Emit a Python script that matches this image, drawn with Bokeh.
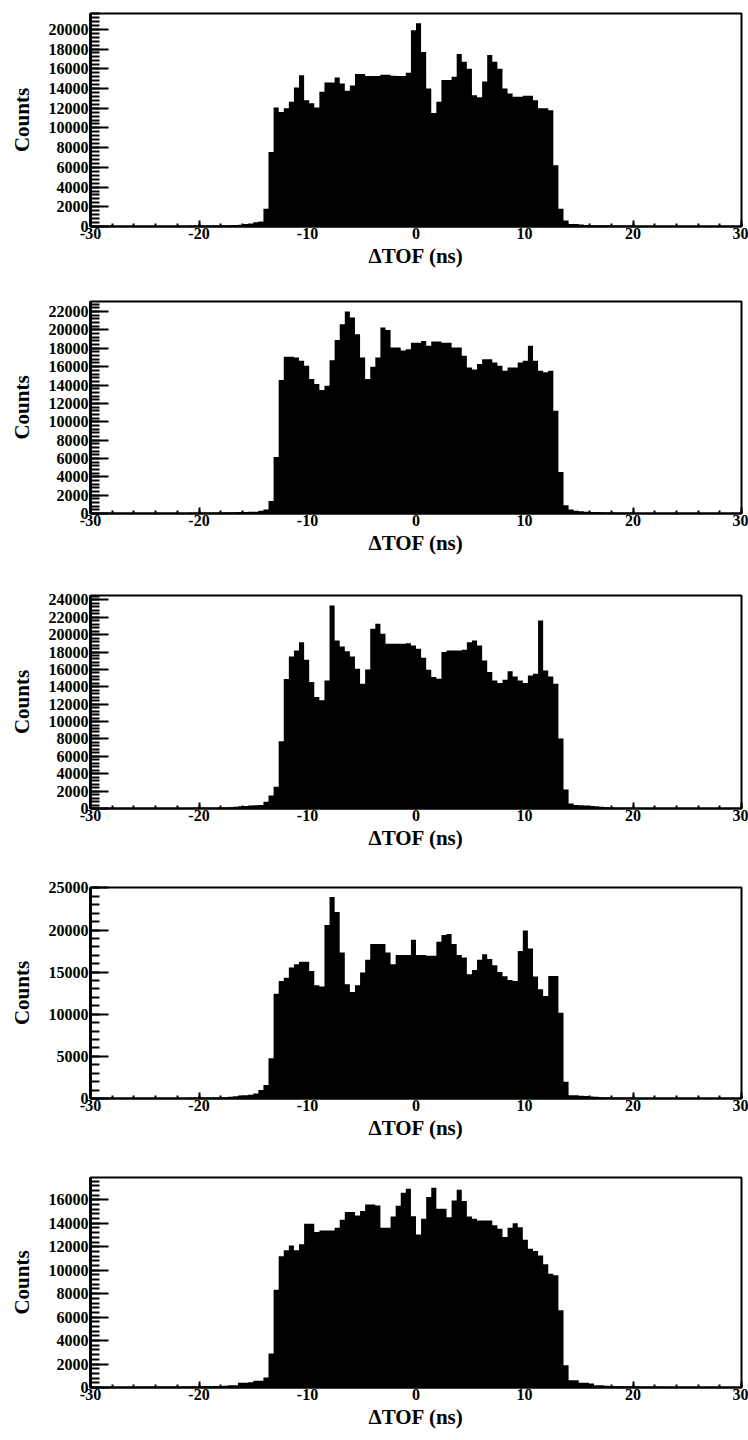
from bokeh.plotting import figure
from bokeh.layouts import column
from bokeh.models import (Range1d, SingleIntervalTicker, BasicTickFormatter,
                          PrintfTickFormatter, ColumnDataSource)
from bokeh.embed import file_html
from bokeh.resources import INLINE

# ---------------- data ----------------
bin_lo = -30.0
bin_hi = 30.0
n_bins = 128

x_label = "\u0394TOF (ns)"
y_label = "Counts"

counts_1 = [
    40, 45, 40, 50, 45, 50, 45, 50, 55, 50, 55, 50, 55, 60, 55, 60, 60, 65, 60, 70, 70, 75, 80, 85, 90, 100,
    110, 120, 140, 170, 250, 300, 420, 500, 1800, 7560,
    12070, 11600, 12000, 12640, 14100, 15350, 12800, 12500, 12070, 13660,
    14600, 14600, 15100, 14500, 13760, 14300, 15460, 15460, 15250, 15250,
    15250, 15400, 15400, 15300, 15250, 15250, 15600, 19900, 20600, 17700,
    14000, 11500, 12640, 14850, 14850, 15190, 17500, 16700, 16000, 13300,
    13100, 14700, 17400, 16700, 16000, 14000, 13500, 13150, 13150, 13250,
    13250, 12800, 12000, 12000, 11800, 6200, 1800, 600, 260, 250,
    200, 130, 110, 100, 100, 90,
    80, 75, 70, 70, 65, 60, 60, 55, 55, 50, 55, 50, 50, 45, 50, 45, 45, 40, 45, 40, 40, 45, 40, 40, 35, 40,
]

counts_2 = [
    40, 40, 45, 45, 50, 45, 50, 50, 50, 55, 50, 55, 55, 60, 55, 60, 65, 60, 65, 70, 70, 75, 75, 80, 85, 90,
    100, 120, 140, 160, 170, 180, 200, 300, 430, 1370,
    6150, 14540, 17080, 17080, 17000, 16640, 16100, 14650, 14100, 13460,
    13930, 16700, 18900, 20620, 22000, 21350, 19540, 17000, 14650, 16000,
    17000, 20260, 20000, 18100, 18100, 17750, 17900, 18600, 18600, 18800,
    18270, 18740, 18740, 18600, 18600, 18100, 18100, 17200, 15900, 15700,
    16300, 16800, 16800, 16460, 16100, 15560, 15900, 15900, 16460, 16640,
    18270, 16640, 15560, 15400, 15560, 11200, 4520, 900, 430, 300,
    250, 200, 170, 150, 130, 120,
    100, 90, 80, 75, 70, 65, 60, 60, 55, 55, 50, 50, 50, 45, 45, 45, 40, 45, 40, 40, 40, 45, 40, 35, 40, 40,
]

counts_3 = [
    40, 45, 40, 45, 50, 50, 45, 50, 55, 50, 55, 55, 60, 55, 60, 60, 65, 65, 70, 70, 75, 80, 80, 90, 95, 105,
    120, 150, 200, 250, 300, 350, 380, 400, 770, 1500,
    2490, 7730, 14900, 17490, 18180, 19130, 17100, 14540, 12820, 12440,
    14730, 23340, 19330, 18640, 18100, 17490, 16070, 14350, 16000, 20670,
    21240, 20090, 18940, 18940, 18940, 18940, 19000, 18750, 18370, 17340,
    15960, 15120, 14930, 17990, 18180, 18180, 18180, 18250, 19130, 19330,
    18750, 17030, 15690, 14730, 14430, 14810, 15800, 15190, 14730, 14430,
    15310, 15500, 21620, 15880, 15190, 14350, 8040, 2180, 570, 400,
    380, 350, 300, 250, 200, 150,
    120, 100, 90, 80, 75, 70, 65, 60, 60, 55, 55, 50, 50, 50, 45, 45, 45, 40, 45, 40, 40, 40, 45, 40, 40, 35,
]

counts_4 = [
    40, 40, 45, 45, 50, 50, 50, 55, 50, 55, 55, 60, 55, 60, 60, 65, 65, 70, 70, 75, 80, 85, 90, 100, 110, 130,
    150, 200, 280, 350, 400, 450, 600, 1000, 1600, 4780,
    12440, 13950, 14350, 15550, 15950, 16230, 16230, 15150, 13440, 13300,
    20610, 23920, 22130, 17340, 13560, 12640, 13440, 14950, 16470, 18340,
    18340, 18340, 17340, 15950, 17030, 17030, 17030, 18860, 17030, 17030,
    16950, 16950, 18620, 19420, 19540, 18340, 17030, 16750, 14750, 15270,
    16470, 17140, 16550, 15830, 15030, 14500, 14070, 13950, 17500, 19940,
    17820, 14470, 12960, 12160, 14550, 14550, 10170, 2000, 400, 380,
    330, 300, 250, 200, 150, 120,
    100, 90, 85, 80, 75, 70, 65, 60, 60, 55, 55, 50, 50, 50, 45, 45, 45, 40, 45, 40, 40, 40, 45, 40, 40, 40,
]

counts_5 = [
    40, 45, 40, 45, 50, 50, 50, 55, 50, 55, 55, 60, 60, 60, 65, 65, 70, 70, 75, 80, 85, 90, 100, 110, 120, 135,
    150, 200, 200, 400, 400, 450, 570, 570, 850, 2890,
    8340, 11180, 11690, 12110, 11690, 12200, 13960, 13960, 13250, 13390,
    13390, 13390, 13620, 14300, 14950, 14950, 14670, 15040, 15600, 15600,
    15520, 13620, 13620, 14580, 15500, 16600, 16940, 14600, 13050, 14380,
    16230, 17020, 15230, 15230, 14520, 15940, 16850, 15890, 14580, 14380,
    14240, 14240, 14240, 13820, 13530, 12820, 13620, 14010, 13670, 12600,
    11830, 11630, 11260, 10500, 9700, 9560, 6580, 1900, 620, 620,
    400, 400, 350, 200, 200, 150,
    130, 110, 100, 90, 80, 75, 70, 65, 60, 60, 55, 55, 50, 50, 50, 45, 45, 45, 40, 45, 40, 40, 40, 45, 40, 40,
]

y_tops = [21600, 23100, 24500, 25050, 17900]
y_major = [2000, 2000, 2000, 5000, 2000]
x_major = 10

# ---------------- drawing ----------------
FONT = "Liberation Serif"
panels = [counts_1, counts_2, counts_3, counts_4, counts_5]
# (figure height, top border, bottom border)
geom = [(290, 13, 64), (290, 11, 67), (290, 15, 62), (290, 17, 62), (280, 17, 53)]

step = (bin_hi - bin_lo) / n_bins
edges = [bin_lo + i * step for i in range(n_bins + 1)]

figs = []
for counts, ytop, ymaj, (h, bt, bb) in zip(panels, y_tops, y_major, geom):
    p = figure(width=748, height=h, output_backend="svg", toolbar_location=None,
               x_range=Range1d(bin_lo, bin_hi), y_range=Range1d(0, ytop),
               min_border_left=90, min_border_right=7, min_border_top=bt, min_border_bottom=bb)
    # histogram as a filled step area (value held from each bin's left edge to the next)
    src = ColumnDataSource(dict(x=edges, y1=[0] * (n_bins + 1), y2=list(counts) + [counts[-1]]))
    p.varea_step(x="x", y1="y1", y2="y2", step_mode="after", source=src, fill_color="black")

    p.xgrid.visible = False
    p.ygrid.visible = False
    p.outline_line_color = "black"
    p.outline_line_width = 2
    p.background_fill_color = "white"
    p.border_fill_color = "white"

    xa = p.xaxis[0]
    ya = p.yaxis[0]
    xa.ticker = SingleIntervalTicker(interval=x_major, num_minor_ticks=5)
    ya.ticker = SingleIntervalTicker(interval=ymaj, num_minor_ticks=5)
    xa.formatter = PrintfTickFormatter(format="%d")
    ya.formatter = BasicTickFormatter(use_scientific=False)

    for ax in (xa, ya):
        ax.major_label_text_font = FONT
        ax.major_label_text_font_style = "bold"
        ax.major_label_text_font_size = "16px"
        ax.major_label_text_color = "black"
        ax.axis_label_text_font = FONT
        ax.axis_label_text_font_style = "bold"
        ax.axis_label_text_color = "black"
        ax.major_tick_out = 0
        ax.minor_tick_out = 0
        ax.major_tick_line_color = "black"
        ax.minor_tick_line_color = "black"
        ax.axis_line_color = "black"

    xa.axis_label = x_label
    xa.axis_label_text_font_size = "21px"
    xa.axis_label_standoff = 2
    xa.major_label_standoff = 1
    xa.major_tick_in = 6
    xa.minor_tick_in = 3
    xa.major_tick_line_width = 2
    xa.minor_tick_line_width = 2
    xa.axis_line_width = 2

    ya.axis_label = y_label
    ya.axis_label_text_font_size = "21px"
    ya.axis_label_standoff = 12
    ya.major_label_standoff = 2
    ya.major_tick_in = 18
    ya.minor_tick_in = 9
    ya.major_tick_line_width = 2
    ya.minor_tick_line_width = 2
    ya.axis_line_width = 3

    figs.append(p)

layout = column(*figs, spacing=0)
open("out.html", "w").write(file_html(layout, INLINE))
